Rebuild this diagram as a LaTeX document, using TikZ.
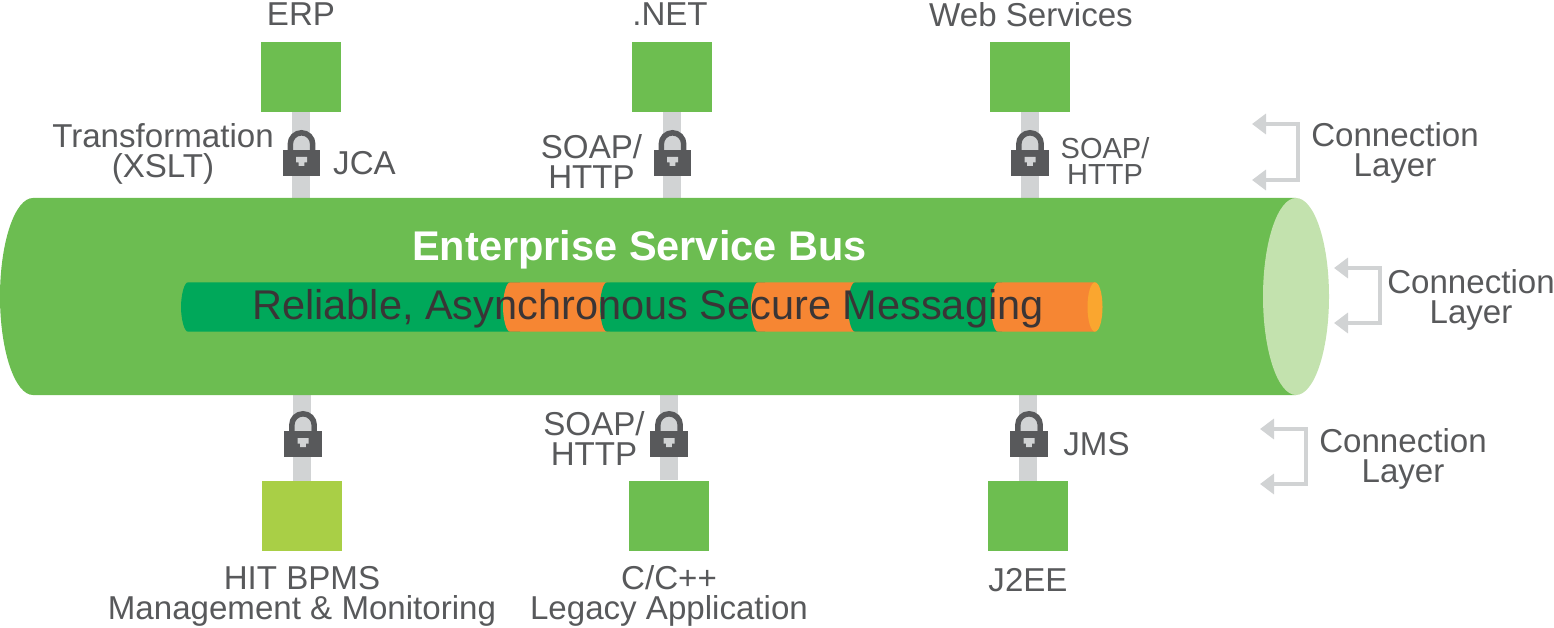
\documentclass[tikz,border=0pt]{standalone}
\usepackage{fontspec}
\setmainfont{Liberation Sans}
\usetikzlibrary{arrows.meta}
\definecolor{busgreen}{HTML}{6CBD51}
\definecolor{boxgreen}{HTML}{6DBE50}
\definecolor{limegreen}{HTML}{A9CF46}
\definecolor{stemgrey}{HTML}{D1D3D4}
\definecolor{labelgrey}{HTML}{58595B}
\definecolor{busend}{HTML}{C3E2AE}
\definecolor{darkgreen}{HTML}{00A85A}
\definecolor{orangeseg}{HTML}{F68633}
\definecolor{orangeend}{HTML}{FAA62F}
\definecolor{darktext}{HTML}{3A3536}
\tikzset{
  sysbox/.style={rectangle,fill=boxgreen,draw=none,minimum width=80pt,minimum height=70pt,inner sep=0pt},
  stem/.style={draw=stemgrey,line width=18pt},
  lbl/.style={text=labelgrey,font=\fontsize{33.1}{30}\selectfont,align=center,inner sep=0pt},
  lblsmall/.style={text=labelgrey,font=\fontsize{29}{26}\selectfont,align=center,inner sep=0pt},
  layerarrow/.style={draw=stemgrey,line width=4pt,{Triangle[length=14pt,width=20pt,fill=stemgrey]}-{Triangle[length=14pt,width=20pt,fill=stemgrey]}},
  lockbody/.pic={
    \fill[labelgrey] (-18.8,0) rectangle (18.8,26);
    \draw[labelgrey,line width=5.5pt] (-11.2,1) -- (-11.2,-6) .. controls (-11.2,-12.2) and (-6.2,-17.2) .. (0,-17.2) .. controls (6.2,-17.2) and (11.2,-12.2) .. (11.2,-6) -- (11.2,1);
    \fill[stemgrey] (-5.5,7) -- (5.5,7) -- (5.5,12.5) -- (2.8,12.5) -- (2.8,16) -- (-2.8,16) -- (-2.8,12.5) -- (-5.5,12.5) -- cycle;
  }
}
\begin{document}
\begin{tikzpicture}[x=1pt,y=-1pt]
\useasboundingbox (0,0) rectangle (1554,628);
% invisible frame of the bus
\node[rectangle,minimum width=1329pt,minimum height=197pt,inner sep=0pt] (bus) at (664.5,296.5) {};
% boxes
\node[sysbox] (erp) at (301,77) {};
\node[sysbox] (net) at (672,77) {};
\node[sysbox] (web) at (1030,77) {};
\node[sysbox,fill=limegreen] (hit) at (302,516) {};
\node[sysbox] (cpp) at (669,515.5) {};
\node[sysbox] (j2ee) at (1028,516) {};
% stems
\draw[stem] (erp.south) -- (erp.south |- bus.north);
\draw[stem] (net.south) -- (net.south |- bus.north);
\draw[stem] (web.south) -- (web.south |- bus.north);
\draw[stem] (hit.north) -- (hit.north |- bus.south);
\draw[stem] (cpp.north) -- (cpp.north |- bus.south);
\draw[stem] (j2ee.north) -- (j2ee.north |- bus.south);
% locks
\pic at (301.5,150) {lockbody};
\pic at (672.5,150) {lockbody};
\pic at (1030,150) {lockbody};
\pic at (303,431) {lockbody};
\pic at (669,431) {lockbody};
\pic at (1029,431) {lockbody};
% bus
\fill[busgreen] (33,198) -- (1296,198) -- (1296,395) -- (33,395) .. controls (15,395) and (0,351) .. (0,296.5) .. controls (0,242) and (15,198) .. (33,198) -- cycle;
\fill[busend] (1296,296.5) ellipse [x radius=33,y radius=98.5];
% inner tube
\newcommand{\tubeseg}[3]{\fill[#3] (#1,282.3) -- (#2,282.3) -- (#2,331.7) -- (#1,331.7) .. controls (#1-4,331.7) and (#1-7,318) .. (#1-7,307) .. controls (#1-7,296) and (#1-4,282.3) .. (#1,282.3) -- cycle;}
\tubeseg{188}{520}{darkgreen}
\tubeseg{510}{610}{orangeseg}
\tubeseg{607}{765}{darkgreen}
\tubeseg{758}{860}{orangeseg}
\tubeseg{855}{1002}{darkgreen}
\tubeseg{998}{1095}{orangeseg}
\fill[orangeend] (1095,307) ellipse [x radius=7.5,y radius=24.7];
% bus text
\node[text=white,font=\fontsize{41.5}{41}\selectfont\bfseries,inner sep=0pt] (title) at (639.5,250) {Enterprise Service Bus};
\node[text=darktext,font=\fontsize{41.5}{41}\selectfont,inner sep=0pt] (msg) at (648,309) {Reliable, Asynchronous Secure Messaging};
% top labels
\node[lbl] (terp) at (301,14.5) {ERP};
\node[lbl] (tnet) at (670,14.5) {.NET};
\node[lbl] (tweb) at (1031,14.5) {Web Services};
\node[lbl] (txslt) at (163,154) {Transformation\\(XSLT)};
\node[lbl] (tjca) at (364.5,163) {JCA};
\node[lbl] (tsoap1) at (591.5,162) {SOAP/\\HTTP};
\node[lblsmall] (tsoap2) at (1105,161) {SOAP/\\HTTP};
% bottom labels
\node[lbl] (tsoap3) at (594,439) {SOAP/\\HTTP};
\node[lbl] (tjms) at (1096.5,444) {JMS};
\node[lbl] (thit) at (302,596) {HIT BPMS\\Management \& Monitoring};
\node[lbl] (tcpp) at (669,596) {C/C++\\Legacy Application};
\node[lbl] (tj2ee) at (1028,580) {J2EE};
% layer labels
\node[lbl] (l1) at (1395,153) {Connection\\Layer};
\node[lbl] (l2) at (1471,300) {Connection\\Layer};
\node[lbl] (l3) at (1403,459) {Connection\\Layer};
% layer arrows
\coordinate (a1) at (1252,124); \coordinate (b1) at (1298,124); \coordinate (c1) at (1298,180); \coordinate (d1) at (1252,180);
\coordinate (a2) at (1334,268); \coordinate (b2) at (1380,268); \coordinate (c2) at (1380,323); \coordinate (d2) at (1334,323);
\coordinate (a3) at (1260,429); \coordinate (b3) at (1306,429); \coordinate (c3) at (1306,484); \coordinate (d3) at (1260,484);
\draw[layerarrow] (a1) -- (b1) -- (c1) -- (d1);
\draw[layerarrow] (a2) -- (b2) -- (c2) -- (d2);
\draw[layerarrow] (a3) -- (b3) -- (c3) -- (d3);
\end{tikzpicture}
\end{document}
